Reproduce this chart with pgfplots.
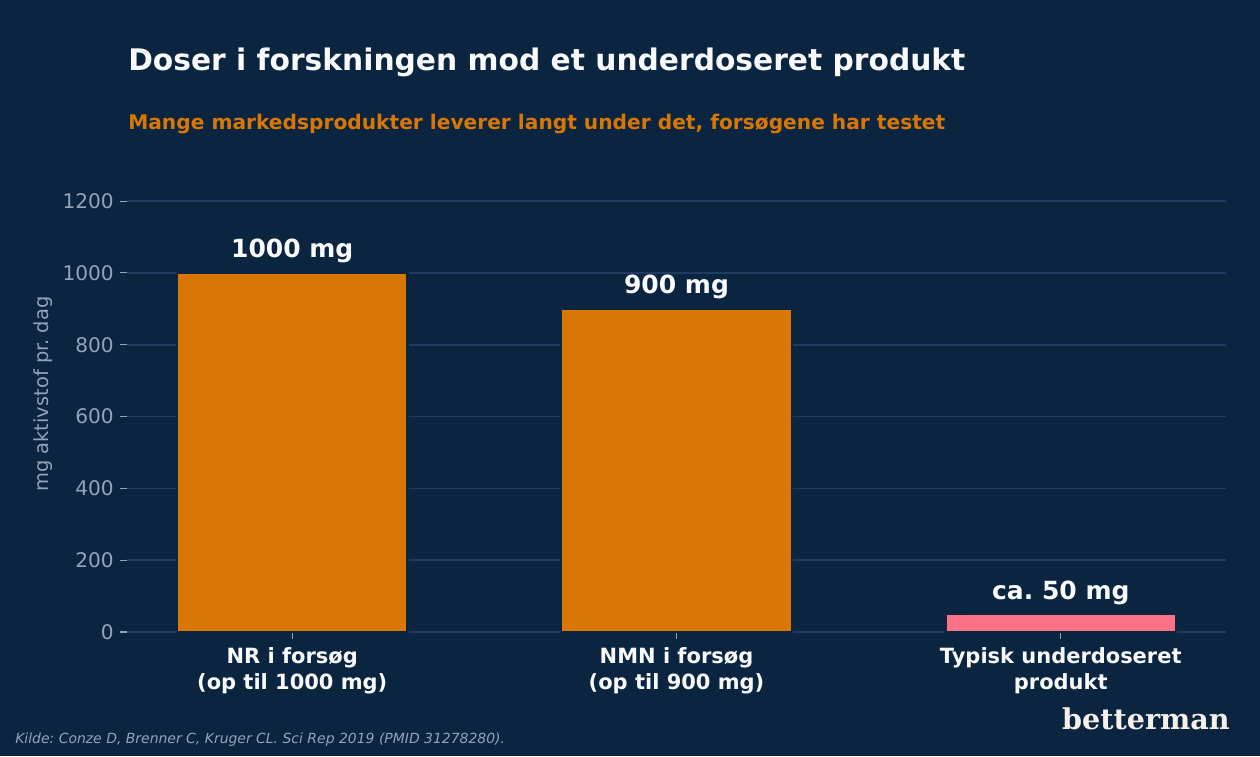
\documentclass[border=0pt]{standalone}
\usepackage{fontspec}
\setmainfont{DejaVu Sans}
\newfontfamily\logofont{DejaVu Serif}
\usepackage{pgfplots}
\pgfplotsset{compat=1.18}
\definecolor{bg}{HTML}{0B2540}
\definecolor{barorange}{HTML}{D97706}
\definecolor{barpink}{HTML}{FB7185}
\definecolor{gridc}{HTML}{1F3B60}
\definecolor{tickc}{HTML}{94A3B8}
\definecolor{titlec}{HTML}{F8FAFC}
\definecolor{logoc}{HTML}{F5F1EA}
\begin{document}
\frenchspacing
\begin{tikzpicture}
\fill[bg] (0,0) rectangle (907.2pt,-544.32pt);
\node[anchor=base west, inner sep=0, text=titlec, font=\bfseries\fontsize{21.4}{25}\selectfont] at (92.16pt,-50.4pt) {Doser i forskningen mod et underdoseret produkt};
\node[anchor=base west, inner sep=0, text=barorange, font=\bfseries\fontsize{14.53}{18}\selectfont] at (92.16pt,-93.1pt) {Mange markedsprodukter leverer langt under det, forsøgene har testet};
\begin{axis}[
  at={(91.44pt,-455.04pt)}, anchor=south west,
  scale only axis, width=791.28pt, height=342.6pt,
  xmin=-0.43, xmax=2.43, ymin=0, ymax=1325,
  axis x line*=bottom, axis y line*=left,
  axis line style={draw=none},
  ytick={0,200,400,600,800,1000,1200},
  xtick={0,1,2},
  xticklabels={{NR i forsøg\\(op til 1000 mg)},{NMN i forsøg\\(op til 900 mg)},{Typisk underdoseret\\produkt}},
  tick align=outside, major tick length=5pt,
  tick style={draw=tickc, line width=0.8pt},
  ymajorgrids, grid style={draw=gridc, line width=1.2pt},
  /pgf/number format/assume math mode=true,
  /pgf/number format/1000 sep={},
  yticklabel style={text=tickc, font=\fontsize{14.5}{17}\selectfont, xshift=-1pt},
  xticklabel style={text=titlec, font=\bfseries\fontsize{15.1}{18.7}\selectfont, align=center, yshift=-3pt},
  every axis y label/.style={at={(axis description cs:-0.0764,0.5)}, rotate=90, anchor=center},
  ylabel={mg aktivstof pr.\ dag},
  ylabel style={text=tickc, font=\fontsize{14}{16}\selectfont},
  clip=false,
  nodes near coords style={text=titlec, font=\bfseries\fontsize{18}{20}\selectfont, anchor=base, yshift=10.8pt},
]
\addplot[ybar, bar width=0.6, bar shift=0, fill=barorange, draw=bg, line width=1.8pt,
  nodes near coords, point meta=explicit symbolic]
  coordinates {(0,1000) [1000 mg] (1,900) [900 mg]};
\addplot[ybar, bar width=0.6, bar shift=0, fill=barpink, draw=bg, line width=1.8pt,
  nodes near coords, point meta=explicit symbolic]
  coordinates {(2,50) [ca.\ 50 mg]};
\end{axis}
\node[anchor=base west, inner sep=0, text=tickc, font=\itshape\fontsize{10.05}{12}\selectfont] at (10.8pt,-535pt) {Kilde: Conze D, Brenner C, Kruger CL. Sci Rep 2019 (PMID 31278280).};
\node[anchor=base east, inner sep=0, text=logoc, font=\logofont\bfseries\fontsize{20.6}{25}\selectfont] at (885.6pt,-524.9pt) {betterman};
\end{tikzpicture}
\end{document}
